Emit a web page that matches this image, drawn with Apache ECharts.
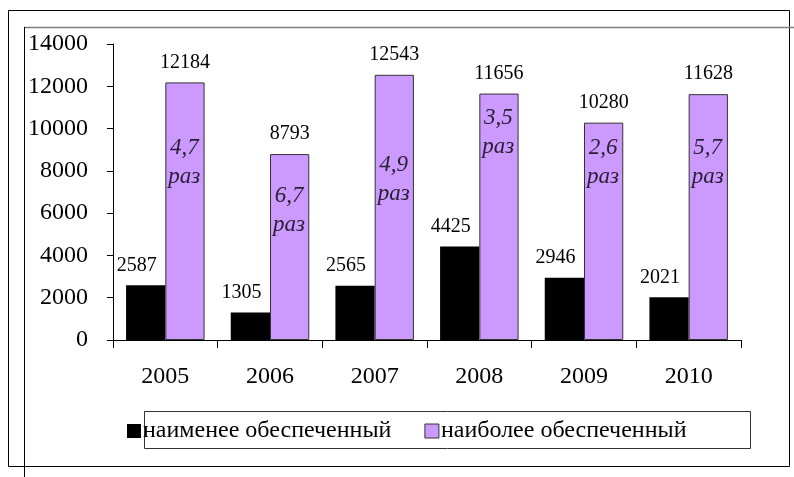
<!DOCTYPE html>
<html>
<head>
<meta charset="utf-8">
<script src="https://cdn.jsdelivr.net/npm/echarts@6/dist/echarts.min.js"></script>
<style>
  html, body { margin: 0; padding: 0; background: #fff; }
  #chart { width: 794px; height: 477px; }
</style>
</head>
<body>
<div id="chart"></div>
<script>
const years = ['2005', '2006', '2007', '2008', '2009', '2010'];
const leastName = 'наименее обеспеченный';
const mostName = 'наиболее обеспеченный';
const leastValues = [2587, 1305, 2565, 4425, 2946, 2021];
const mostValues = [12184, 8793, 12543, 11656, 10280, 11628];
const ratioTexts = ['4,7', '6,7', '4,9', '3,5', '2,6', '5,7'];
const ratioAnchorY = [8400, 6150, 7570, 9810, 8400, 8400];
const yTicks = { min: 0, max: 14000, interval: 2000 };

const FONT = '"Liberation Serif", "Times New Roman", serif';
const chart = echarts.init(document.getElementById('chart'));

chart.setOption({
  animation: false,
  backgroundColor: '#fff',
  textStyle: { fontFamily: FONT },
  grid: { left: 113, right: 53, top: 44, bottom: 137, containLabel: false },
  xAxis: [{
    type: 'category',
    data: years,
    axisLine: { lineStyle: { color: '#000', width: 1 } },
    axisTick: { show: true, length: 8, lineStyle: { color: '#000' } },
    axisLabel: { color: '#000', fontSize: 24, fontFamily: FONT, margin: 25 },
    splitLine: { show: false }
  }, {
    type: 'category',
    data: years,
    show: false,
    position: 'bottom'
  }],
  yAxis: {
    type: 'value',
    min: yTicks.min,
    max: yTicks.max,
    interval: yTicks.interval,
    axisLine: { show: true, lineStyle: { color: '#000', width: 1 } },
    axisTick: { show: true, length: 6, lineStyle: { color: '#000' } },
    axisLabel: { color: '#000', fontSize: 24, fontFamily: FONT, margin: 25,
      formatter: (v) => String(v) },
    splitLine: { show: false }
  },
  legend: {
    left: 122,
    top: 414,
    itemWidth: 14,
    itemHeight: 14,
    itemGap: 33,
    icon: 'rect',
    textStyle: { color: '#000', fontSize: 24, fontFamily: FONT, padding: [0, 0, 0, -3] },
    data: [
      { name: leastName, itemStyle: { color: '#000', borderWidth: 0 } },
      { name: mostName, itemStyle: { color: '#CC99FF', borderColor: '#333', borderWidth: 1 } }
    ]
  },
  graphic: [
    { type: 'rect', shape: { x: 8.5, y: 10.5, width: 781, height: 456 },
      style: { fill: 'none', stroke: '#000', lineWidth: 1 }, z: 0 },
    { type: 'line', shape: { x1: 24, y1: 27.5, x2: 794, y2: 27.5 },
      style: { stroke: '#808080', lineWidth: 1.5 }, z: 0 },
    { type: 'line', shape: { x1: 24.5, y1: 27, x2: 24.5, y2: 477 },
      style: { stroke: '#000', lineWidth: 1 }, z: 0 },
    { type: 'rect', shape: { x: 144.5, y: 411.5, width: 606, height: 37 },
      style: { fill: 'none', stroke: '#333', lineWidth: 1 }, z: 0 }
  ],
  series: [{
    name: leastName,
    type: 'bar',
    data: leastValues,
    barGap: '0%',
    barCategoryGap: '25%',
    itemStyle: { color: '#000' },
    label: {
      show: true, position: 'top', distance: 10, offset: [-9, 0],
      color: '#000', fontSize: 20, fontFamily: FONT
    }
  }, {
    name: mostName,
    type: 'bar',
    data: mostValues,
    barGap: '0%',
    barCategoryGap: '25%',
    itemStyle: { color: '#CC99FF', borderColor: '#333', borderWidth: 1 },
    label: {
      show: true, position: 'top', distance: 10,
      color: '#000', fontSize: 20, fontFamily: FONT
    }
  }, {
    name: 'ratio',
    type: 'scatter',
    xAxisIndex: 1,
    symbolSize: 0,
    data: ratioAnchorY.map((v, i) => ({ value: v, ratio: ratioTexts[i] })),
    label: {
      show: true,
      position: 'inside',
      offset: [19, 0],
      formatter: (p) => p.data.ratio + '\nраз',
      color: '#000',
      fontSize: 23,
      fontStyle: 'italic',
      fontFamily: FONT,
      lineHeight: 29,
      align: 'center'
    },
    tooltip: { show: false },
    z: 5
  }]
});
</script>
</body>
</html>
